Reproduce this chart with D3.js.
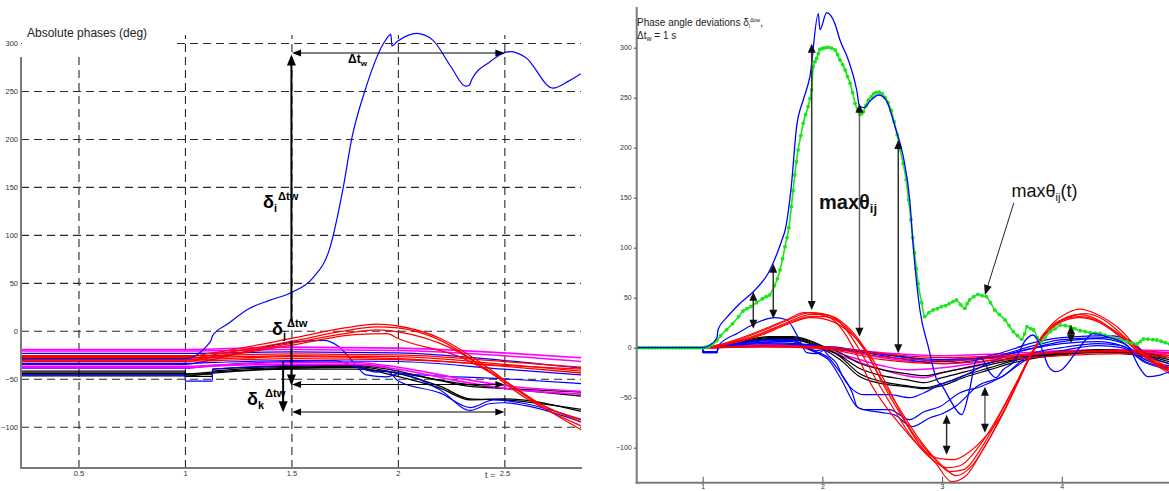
<!DOCTYPE html>
<html><head><meta charset="utf-8">
<script src="https://cdn.jsdelivr.net/npm/d3@7"></script>
<style>body{margin:0;background:#fff;}svg{display:block;font-family:"Liberation Sans",Arial,Helvetica,sans-serif;}</style>
</head><body><svg id="c" width="1169" height="491"></svg>
<script>
// ---------------- LEFT PANEL DATA: absolute phases (deg) vs t (s) ----------------
const leftXTicks = [0.5, 1, 1.5, 2, 2.5];
const leftXTickLabels = ["0.5", "1", "1.5", "2", "2.5"];
const leftYTicks = [300, 250, 200, 150, 100, 50, 0, -50, -100];

const leftMagenta = [
  [[0.23,-19.5],[1.0,-19.5],[1.5,-17],[2.0,-18],[2.5,-23],[2.86,-28]],
  [[0.23,-21],[1.0,-21],[1.5,-19.5],[2.0,-20.5],[2.5,-26],[2.86,-32]],
  [[0.23,-37],[1.0,-37],[1.13,-36],[1.5,-33],[1.8,-33],[2.0,-38],[2.3,-50],[2.5,-57],[2.86,-63]],
  [[0.23,-38.5],[1.0,-38.5],[1.13,-37],[1.5,-35],[1.8,-35],[2.0,-40],[2.3,-53],[2.5,-60],[2.86,-66]]
];
const leftRed = [
  [[0.23,-26],[1.0,-26],[1.5,-24],[2.0,-25],[2.5,-32],[2.86,-38]],
  [[0.23,-28],[1.0,-28],[1.5,-26],[2.0,-27],[2.5,-35],[2.86,-42]],
  [[0.23,-30],[1.0,-30],[1.5,-27],[2.0,-29],[2.5,-37],[2.86,-44]],
  [[0.23,-31.5],[1.0,-31.5],[1.5,-29],[2.0,-30],[2.5,-36],[2.86,-40]],
  [[0.23,-27],[1.0,-27],[1.13,-23],[1.5,-8],[1.75,3],[1.9,7],[2.0,5],[2.2,-8],[2.4,-35],[2.6,-68],[2.86,-103]],
  [[0.23,-29],[1.0,-29],[1.13,-25],[1.5,-11],[1.75,0],[1.9,4],[2.0,3],[2.2,-10],[2.4,-38],[2.6,-70],[2.86,-99]],
  [[0.23,-30.5],[1.0,-30.5],[1.13,-27],[1.5,-13],[1.75,-3],[1.9,1],[2.0,-1],[2.25,-18],[2.45,-45],[2.65,-74],[2.86,-95]],
  [[0.23,-32],[1.0,-32],[1.13,-28],[1.5,-15],[1.8,-4],[1.95,-3],[2.0,-8],[2.3,-28],[2.5,-52],[2.7,-80],[2.86,-92]]
];
const leftBlueMain = [[0.23,-29],[1.0,-29],[1.12,-11],[1.13,-5],[1.2,7],[1.3,23],[1.4,32],[1.5,40],[1.6,55],[1.68,86],[1.743,149],[1.783,200],[1.845,250],[1.934,300],[1.967,309],[1.972,297],[2.0,302],[2.088,310],[2.164,303],[2.25,275],[2.318,255],[2.335,256],[2.347,262],[2.43,280],[2.526,291],[2.6,285],[2.728,253],[2.8,260],[2.859,268]];
const leftBlue = [
  [[0.23,-23.5],[1.0,-23.5],[1.5,-22],[2.0,-23],[2.5,-31],[2.86,-39]],
  [[0.23,-34],[1.0,-34],[1.13,-33],[1.5,-31],[2.0,-32],[2.5,-40],[2.86,-46]],
  [[0.23,-35],[1.0,-35],[1.13,-30],[1.5,-12],[1.65,-10],[1.72,-16],[1.8,-35],[1.85,-46],[1.95,-48],[2.0,-45],[2.2,-62],[2.34,-83],[2.43,-76],[2.5,-75],[2.6,-78],[2.86,-95]],
  [[0.23,-39],[1.0,-39],[1.13,-36],[1.5,-32],[1.7,-31],[1.8,-37],[1.9,-43],[1.95,-42],[2.0,-52],[2.2,-65],[2.34,-80],[2.45,-72],[2.6,-76],[2.86,-93]],
  [[0.23,-46],[1.0,-46],[1.002,-52.5],[1.128,-52.5],[1.13,-40],[1.5,-36],[1.8,-35],[1.95,-38],[2.0,-44],[2.5,-50],[2.86,-55]]
];
const leftBlack = [
  [[0.23,-42],[1.0,-42],[1.002,-45],[1.128,-45],[1.13,-40],[1.5,-37],[1.8,-36],[1.95,-40],[2.2,-52],[2.34,-58],[2.5,-60],[2.86,-64]],
  [[0.23,-44],[1.0,-44],[1.002,-47.5],[1.128,-47.5],[1.13,-42],[1.5,-38],[1.8,-37],[1.95,-42],[2.2,-58],[2.34,-71],[2.5,-72],[2.86,-82]],
  [[0.23,-45],[1.0,-45],[1.13,-43],[1.5,-39],[1.8,-38],[1.95,-45],[2.2,-60],[2.34,-72],[2.5,-71],[2.86,-84]],
  [[0.23,-47],[1.0,-47],[1.13,-44],[1.5,-40],[1.8,-40],[2.0,-44],[2.3,-55],[2.5,-60],[2.86,-68]]
];
// annotations (t, value)
const leftUpArrow = [1.5, 10, 288];            // delta_i
const leftDownArrows = [[1.5, -10, -57], [1.461, -32, -85]]; // delta_j, delta_k
const leftHArrows = [[289.6, 1.503, 2.5], [-56, 1.503, 2.5], [-84.6, 1.503, 2.5]];

// ---------------- RIGHT PANEL DATA: phase angle deviations ----------------
const rightXTicks = [1, 2, 3, 4];
const rightYTicks = [300, 250, 200, 150, 100, 50, 0, -50, -100];

const rightGreen = [[0.45,0],[0.475,0],[0.5,0],[0.525,0],[0.55,0],[0.575,0],[0.6,0],[0.625,0],[0.65,0],[0.675,0],[0.7,0],[0.725,0],[0.75,0],[0.775,0],[0.8,0],[0.825,0],[0.85,0],[0.875,0],[0.9,0],[0.925,0],[0.95,0],[0.975,0],[1.0,0],[1.025,0.5],[1.05,1],[1.08,3],[1.117,7],[1.15,12],[1.2,18],[1.25,24],[1.3,31],[1.337,36.7],[1.37,39],[1.4,41],[1.45,45],[1.5,49],[1.53,51],[1.56,52.7],[1.6,62],[1.625,69],[1.646,77.7],[1.668,89],[1.688,101],[1.705,110],[1.72,120],[1.741,141],[1.755,157],[1.769,172.7],[1.783,186],[1.797,197.7],[1.82,212],[1.84,224.4],[1.86,233],[1.881,241],[1.897,249],[1.91,257.7],[1.924,281],[1.938,286],[1.952,289.4],[1.966,294],[1.98,298.4],[1.995,299],[2.008,299.5],[2.03,300],[2.05,300.4],[2.078,299.5],[2.106,297.7],[2.127,293],[2.147,287.7],[2.17,283],[2.19,277.7],[2.21,271],[2.232,264.4],[2.252,255],[2.273,244.4],[2.294,237],[2.314,233.4],[2.328,234],[2.342,236],[2.363,242],[2.384,247.7],[2.41,251],[2.43,254],[2.45,255.4],[2.475,255.5],[2.5,254],[2.525,250],[2.55,245],[2.575,237],[2.6,226],[2.625,213],[2.65,198],[2.675,184],[2.7,168],[2.72,148],[2.74,128],[2.755,110],[2.77,95],[2.785,79],[2.8,64],[2.83,45],[2.855,31],[2.89,35],[2.925,37.7],[2.96,39],[2.994,41],[3.03,42],[3.06,44],[3.09,46],[3.12,47.7],[3.155,43],[3.19,39.4],[3.21,44],[3.23,47.7],[3.265,51],[3.3,53.4],[3.335,52],[3.37,51],[3.405,45],[3.44,37.7],[3.48,33],[3.526,27.7],[3.56,22],[3.596,16],[3.63,12],[3.666,8.4],[3.69,14],[3.71,21],[3.74,19],[3.765,17.7],[3.795,10],[3.82,4.4],[3.86,10],[3.904,16],[3.945,19],[3.987,22.7],[4.03,22],[4.07,21],[4.11,19],[4.154,17],[4.195,16],[4.237,15],[4.28,14.6],[4.32,14.4],[4.36,12.5],[4.404,11],[4.45,9],[4.5,7.5],[4.543,6],[4.585,4.5],[4.627,3.7],[4.655,6],[4.682,8.7],[4.72,8.5],[4.76,8],[4.794,7.7],[4.83,6.5],[4.865,5],[4.9,3.7]];
const rightBlueMain = [[0.45,0],[1.0,0],[1.05,2],[1.12,10],[1.128,18],[1.2,30],[1.3,43],[1.437,57.7],[1.55,75],[1.66,107],[1.69,118],[1.74,161],[1.785,221],[1.84,247.7],[1.896,271],[1.966,334],[1.98,318],[2.036,335],[2.105,324],[2.147,307.7],[2.217,287.7],[2.287,257.7],[2.31,241.7],[2.35,240],[2.4,247],[2.47,252.7],[2.53,248],[2.607,221],[2.676,191],[2.73,147.7],[2.76,100],[2.815,37.7],[2.885,1],[2.955,-32],[3.0,-38],[3.066,-52],[3.163,-67],[3.23,-42],[3.28,-14],[3.32,-10],[3.40,-25],[3.45,-30],[3.51,-22],[3.6,-14],[3.7,8],[3.76,12.7],[3.83,0],[3.89,-19],[3.95,-24],[4.0,-22],[4.11,-6],[4.2,8],[4.26,14],[4.4,10],[4.55,2],[4.65,-20],[4.72,-29],[4.8,-28],[4.9,-24]];
const rightBlue = [
  [[0.45,0],[1.0,0],[1.002,-5],[1.12,-5],[1.13,2],[1.3,15],[1.45,25],[1.6,30],[1.7,28],[1.8,10],[1.87,-5],[1.95,-6],[1.99,-4],[2.05,1],[2.3,-3],[2.6,-8],[3.0,-12],[3.4,-10],[3.7,-2],[4.0,6],[4.3,9],[4.5,5],[4.7,-12],[4.9,-18]],
  [[0.45,0],[1.0,0],[1.002,-4],[1.12,-4],[1.13,1],[1.5,5],[1.9,3],[2.0,1],[2.3,-3],[2.7,-10],[3.0,-14],[3.4,-8],[3.8,6],[4.0,10],[4.4,12],[4.6,5],[4.75,-14],[4.9,-22]],
  [[0.45,0],[1.0,0],[1.5,4],[1.9,2],[2.0,0],[2.3,-4],[2.7,-12],[3.0,-16],[3.4,-10],[3.8,3],[4.0,8],[4.4,10],[4.6,3],[4.75,-10],[4.9,-16]],
  [[0.45,0],[1.0,0],[1.002,-4],[1.12,-4],[1.13,1],[1.3,5],[1.6,8],[1.75,8],[1.85,2],[1.95,-3],[2.0,-2],[2.05,-8],[2.12,-16],[2.17,-29],[2.29,-45],[2.34,-47],[2.56,-47],[2.73,-50],[2.85,-45],[2.98,-37],[3.15,-30],[3.33,-19],[3.55,-7],[3.75,-1],[4.0,4],[4.3,6],[4.5,2],[4.7,-12],[4.9,-20]],
  [[0.45,0],[1.0,0],[1.002,-5],[1.12,-5],[1.13,0],[1.3,4],[1.6,7],[1.75,7],[1.85,1],[1.95,-4],[2.05,-10],[2.15,-25],[2.25,-45],[2.29,-59],[2.34,-62],[2.56,-62],[2.73,-72],[2.85,-64],[2.98,-59],[3.15,-45],[3.32,-39],[3.5,-29],[3.75,-9],[4.0,-3],[4.3,2],[4.5,0],[4.7,-15],[4.9,-22]],
  [[0.45,0],[1.0,0],[1.3,3],[1.6,6],[1.75,6],[1.85,0],[1.95,-5],[2.05,-12],[2.15,-30],[2.3,-60],[2.5,-65],[2.6,-67],[2.75,-79],[2.9,-70],[3.0,-66],[3.12,-58],[3.3,-38],[3.5,-29],[3.75,-6],[4.0,0],[4.3,4],[4.5,2],[4.7,-14],[4.9,-20]]
];
const rightMagenta = [
  [[0.45,0],[1.0,0],[1.5,2],[2.0,1],[2.5,-5],[3.0,-8],[3.5,-6],[4.0,-3],[4.5,-2],[4.9,-3]],
  [[0.45,0],[1.0,0],[1.5,1],[2.0,0],[2.5,-10],[2.8,-14],[3.0,-12],[3.5,-9],[4.0,-5],[4.5,-4],[4.9,-6]],
  [[0.45,0],[1.0,0],[1.5,3],[1.9,2],[2.2,-10],[2.5,-22],[2.7,-28],[2.85,-30],[3.0,-25],[3.3,-18],[3.6,-10],[4.0,-5],[4.5,-4],[4.9,-8]],
  [[0.45,0],[1.0,0],[1.5,2],[1.9,1],[2.2,-8],[2.5,-18],[2.7,-22],[3.0,-20],[3.3,-15],[3.6,-8],[4.0,-4],[4.5,-3],[4.9,-6]]
];
const rightBlack = [
  [[0.45,0],[1.0,0],[1.1,2],[1.3,5],[1.55,9],[1.75,9],[1.9,5],[2.0,0],[2.15,-8],[2.3,-20],[2.5,-28],[2.7,-32],[2.85,-35],[3.0,-30],[3.2,-24],[3.4,-17],[3.6,-12],[3.8,-8],[4.0,-6],[4.3,-3],[4.6,-5],[4.9,-12]],
  [[0.45,0],[1.0,0],[1.3,5],[1.55,10],[1.75,10],[1.9,6],[2.0,1],[2.15,-9],[2.3,-25],[2.5,-34],[2.7,-38],[2.85,-40],[3.0,-36],[3.2,-27],[3.4,-20],[3.6,-13],[3.8,-9],[4.0,-6],[4.3,-4],[4.6,-6],[4.9,-14]],
  [[0.45,0],[1.0,0],[1.3,4],[1.55,8],[1.75,8],[1.9,4],[2.0,-1],[2.15,-12],[2.3,-28],[2.5,-36],[2.7,-39],[2.85,-41],[3.0,-38],[3.2,-29],[3.4,-22],[3.6,-15],[3.8,-10],[4.0,-7],[4.3,-5],[4.6,-7],[4.9,-16]],
  [[0.45,0],[1.0,0],[1.3,6],[1.55,11],[1.75,11],[1.9,7],[2.0,2],[2.15,-5],[2.3,-15],[2.5,-22],[2.7,-26],[2.85,-28],[3.0,-25],[3.2,-20],[3.4,-15],[3.6,-10],[3.8,-7],[4.0,-5],[4.3,-2],[4.6,-4],[4.9,-10]]
];
const rightRed = [
  [[0.45,0],[1.0,0],[1.5,2],[2.0,1],[2.5,-6],[3.0,-10],[3.5,-8],[4.0,-4],[4.5,-3],[4.9,-5]],
  [[0.45,0],[1.0,0],[1.5,1],[2.0,0],[2.5,-9],[3.0,-13],[3.5,-10],[4.0,-5],[4.5,-4],[4.9,-8]],
  [[0.45,0],[1.0,0],[1.5,1],[2.0,-1],[2.5,-12],[3.0,-16],[3.5,-12],[4.0,-8],[4.5,-6],[4.9,-10]],
  [[0.45,0],[1.0,0],[1.1,2],[1.3,9],[1.5,18],[1.7,28],[1.85,35],[1.95,34],[2.1,27],[2.2,12],[2.3,-10],[2.4,-35],[2.55,-62],[2.7,-84],[2.85,-103],[2.98,-111],[3.1,-112],[3.23,-104],[3.37,-88],[3.51,-65],[3.62,-38],[3.73,-9],[3.83,10],[3.93,25],[4.05,35],[4.15,38.5],[4.3,33],[4.49,18],[4.63,0],[4.75,-13],[4.9,-24]],
  [[0.45,0],[1.0,0],[1.3,8],[1.5,17],[1.7,27],[1.9,35],[2.0,34],[2.15,25],[2.3,0],[2.45,-32],[2.6,-62],[2.75,-90],[2.9,-110],[3.04,-120],[3.15,-118],[3.3,-100],[3.5,-62],[3.62,-35],[3.74,-7],[3.85,14],[3.98,27],[4.15,31],[4.3,27],[4.5,12],[4.65,-3],[4.9,-20]],
  [[0.45,0],[1.0,0],[1.3,7],[1.5,15],[1.7,25],[1.9,33],[2.02,33],[2.2,22],[2.35,0],[2.5,-35],[2.65,-66],[2.8,-95],[2.95,-116],[3.08,-134],[3.2,-128],[3.35,-100],[3.5,-68],[3.62,-38],[3.75,-6],[3.87,15],[4.0,28],[4.15,33],[4.3,28],[4.5,10],[4.7,-10],[4.9,-26]],
  [[0.45,0],[1.0,0],[1.3,6],[1.5,14],[1.7,24],[1.9,31],[2.02,31],[2.2,20],[2.35,-2],[2.5,-33],[2.65,-62],[2.8,-90],[2.95,-112],[3.06,-124],[3.18,-122],[3.33,-100],[3.5,-63],[3.62,-36],[3.75,-6],[3.87,14],[4.0,26],[4.15,30],[4.3,26],[4.5,10],[4.7,-9],[4.9,-22]],
  [[0.45,0],[1.0,0],[1.3,6],[1.5,13],[1.7,23],[1.9,30],[2.0,29],[2.2,18],[2.4,-8],[2.55,-40],[2.7,-75],[2.85,-100],[3.0,-118],[3.12,-128],[3.25,-118],[3.4,-90],[3.55,-55],[3.66,-28],[3.76,-4],[3.9,18],[4.05,30],[4.2,34],[4.35,28],[4.55,8],[4.75,-12],[4.9,-22]]
];
const rightArrows = [[1.423,19,56],[1.59,29,84],[1.911,37.7,304],[2.31,11,244],[2.634,-5.6,207.7],[3.038,-107,-67],[3.358,-85,-39],[4.077,4.4,22.7]];
const rightPointer = [[3.60,145],[3.358,52.7]];

// ---------------- DRAWING ----------------
const svg = d3.select("#c");
const FONT = '"Liberation Sans",Arial,Helvetica,sans-serif';

function arrowHead(g, x, y, dx, dy, L, W, color) {
  const n = Math.hypot(dx, dy); dx /= n; dy /= n;
  const bx = x - dx * L, by = y - dy * L;
  g.append("path")
    .attr("d", `M${x},${y}L${bx - dy * W},${by + dx * W}L${bx + dy * W},${by - dx * W}Z`)
    .attr("fill", color);
}
function arrow(g, x1, y1, x2, y2, opt) {
  const L = opt.L, W = opt.W;
  const dx = x2 - x1, dy = y2 - y1, n = Math.hypot(dx, dy);
  const ux = dx / n, uy = dy / n;
  const sx = opt.start ? x1 + ux * L * 0.8 : x1, sy = opt.start ? y1 + uy * L * 0.8 : y1;
  const ex = opt.end ? x2 - ux * L * 0.8 : x2, ey = opt.end ? y2 - uy * L * 0.8 : y2;
  g.append("line").attr("x1", sx).attr("y1", sy).attr("x2", ex).attr("y2", ey)
    .attr("stroke", opt.stroke).attr("stroke-width", opt.sw);
  if (opt.end) arrowHead(g, x2, y2, ux, uy, L, W, opt.head);
  if (opt.start) arrowHead(g, x1, y1, -ux, -uy, L, W, opt.head);
}

// ===== LEFT =====
const xL = d3.scaleLinear().domain([0.23, 2.86]).range([21, 581]);
const yL = d3.scaleLinear().domain([-143, 300]).range([468, 43]);
const gL = svg.append("g");

const gridH = gL.append("g").attr("transform", "translate(21,0)")
  .call(d3.axisLeft(yL).tickValues(leftYTicks).tickSize(-560).tickFormat(""));
const gridV = gL.append("g").attr("transform", "translate(0,468)")
  .call(d3.axisBottom(xL).tickValues(leftXTicks).tickSize(-433).tickFormat(""));
[gridH, gridV].forEach(g => {
  g.select(".domain").remove();
  g.selectAll("line").attr("stroke", "#2a2a2a").attr("stroke-width", 1.1).attr("stroke-dasharray", "8,5");
});
gL.append("rect").attr("x", 22).attr("y", 0).attr("width", 153).attr("height", 56).attr("fill", "#fff");
gL.append("text").attr("x", 27).attr("y", 37).attr("font-size", 12).attr("fill", "#222").text("Absolute phases (deg)");

svg.append("clipPath").attr("id", "clipL").append("rect").attr("x", 21).attr("y", 30).attr("width", 560).attr("height", 438);
const lineL = d3.line().x(d => xL(d[0])).y(d => yL(d[1])).curve(d3.curveMonotoneX);
const curvesL = gL.append("g").attr("clip-path", "url(#clipL)");
function drawSet(g, sets, gen, color, w) {
  g.selectAll(null).data(sets).enter().append("path")
    .attr("d", gen).attr("fill", "none").attr("stroke", color).attr("stroke-width", w).attr("stroke-linejoin", "round");
}
drawSet(curvesL, leftBlack, lineL, "#000", 1.3);
drawSet(curvesL, leftBlue, lineL, "#0000ff", 1.2);
drawSet(curvesL, leftMagenta, lineL, "#ff00ff", 1.6);
drawSet(curvesL, leftRed, lineL, "#ff0000", 1.3);
drawSet(curvesL, [leftBlueMain], lineL, "#0000ff", 1.2);

gL.append("line").attr("x1", 21).attr("x2", 21).attr("y1", 57).attr("y2", 469).attr("stroke", "#7a7a7a").attr("stroke-width", 2);
gL.append("line").attr("x1", 20).attr("x2", 582).attr("y1", 468).attr("y2", 468).attr("stroke", "#7a7a7a").attr("stroke-width", 2);
const axYL = gL.append("g").attr("transform", "translate(21,0)")
  .call(d3.axisLeft(yL).tickValues(leftYTicks).tickSize(0).tickPadding(3));
const axXL = gL.append("g").attr("transform", "translate(0,468)")
  .call(d3.axisBottom(xL).tickValues(leftXTicks).tickFormat((d, i) => leftXTickLabels[i]).tickSize(0).tickPadding(3));
[axYL, axXL].forEach(g => { g.select(".domain").remove(); g.selectAll("text").attr("font-size", 7.5).attr("fill", "#333").attr("font-family", FONT); });
gL.append("text").attr("x", 485).attr("y", 477.5).attr("font-size", 9).attr("fill", "#333").text("t =");

const ann = gL.append("g");
arrow(ann, xL(leftUpArrow[0]), yL(leftUpArrow[1]), xL(leftUpArrow[0]), yL(leftUpArrow[2]), {end: true, L: 11, W: 4.5, stroke: "#000", sw: 2, head: "#000"});
leftDownArrows.forEach(a => arrow(ann, xL(a[0]), yL(a[1]), xL(a[0]), yL(a[2]), {end: true, L: 11, W: 4.5, stroke: "#000", sw: 2, head: "#000"}));
leftHArrows.forEach(a => arrow(ann, xL(a[1]), yL(a[0]), xL(a[2]), yL(a[0]), {start: true, end: true, L: 9, W: 3.5, stroke: "#000", sw: 1.1, head: "#000"}));

function deltaLabel(g, x, y, sub, big) {
  const t = g.append("text").attr("x", x).attr("y", y).attr("font-weight", "bold").attr("fill", "#000");
  t.append("tspan").attr("font-size", big).text("δ");
  t.append("tspan").attr("font-size", big * 0.6).attr("dy", 4).text(sub);
  t.append("tspan").attr("font-size", big * 0.62).attr("dy", -12).attr("dx", 1).text("Δtw");
}
deltaLabel(ann, 263, 208, "i", 18);
deltaLabel(ann, 272, 335, "j", 18);
deltaLabel(ann, 247, 405, "k", 18);
const dtw = ann.append("text").attr("x", 348).attr("y", 63).attr("font-weight", "bold").attr("font-size", 12);
dtw.append("tspan").text("Δt");
dtw.append("tspan").attr("font-size", 8).attr("dy", 3).text("w");

// ===== RIGHT =====
const xR = d3.scaleLinear().domain([0.449, 4.9]).range([636.7, 1169.5]);
const yR = d3.scaleLinear().domain([-135, 340.7]).range([482.7, 7]);
const gR = svg.append("g");
svg.append("clipPath").attr("id", "clipR").append("rect").attr("x", 637).attr("y", 5).attr("width", 540).attr("height", 478);
const lineR = d3.line().x(d => xR(d[0])).y(d => yR(d[1])).curve(d3.curveMonotoneX);
const curvesR = gR.append("g").attr("clip-path", "url(#clipR)");
drawSet(curvesR, rightMagenta, lineR, "#ff00ff", 1.4);
drawSet(curvesR, rightBlack, lineR, "#000", 1.2);
drawSet(curvesR, rightBlue, lineR, "#0000ff", 1.2);
drawSet(curvesR, rightRed, lineR, "#ff0000", 1.2);
drawSet(curvesR, [rightGreen], lineR, "#19e619", 1.6);
curvesR.selectAll("circle.g").data(rightGreen).enter().append("circle")
  .attr("cx", d => xR(d[0])).attr("cy", d => yR(d[1])).attr("r", 1.9).attr("fill", "#19e619");
drawSet(curvesR, [rightBlueMain], lineR, "#0000ff", 1.3);

gR.append("line").attr("x1", 636.7).attr("x2", 636.7).attr("y1", 7).attr("y2", 483.7).attr("stroke", "#7a7a7a").attr("stroke-width", 2);
gR.append("line").attr("x1", 635.7).attr("x2", 1169).attr("y1", 482.7).attr("y2", 482.7).attr("stroke", "#7a7a7a").attr("stroke-width", 2);
const axYR = gR.append("g").attr("transform", "translate(636.7,0)")
  .call(d3.axisLeft(yR).tickValues(rightYTicks).tickSize(3).tickPadding(2));
const axXR = gR.append("g").attr("transform", "translate(0,482.7)")
  .call(d3.axisBottom(xR).tickValues(rightXTicks).tickFormat(d3.format("d")).tickSize(-6).tickPadding(1.5));
[axYR, axXR].forEach(g => {
  g.select(".domain").remove();
  g.selectAll("line").attr("stroke", "#555");
  g.selectAll("text").attr("font-size", 7).attr("fill", "#333").attr("font-family", FONT);
});

const t1 = gR.append("text").attr("x", 637).attr("y", 26).attr("font-size", 10).attr("fill", "#222");
t1.append("tspan").text("Phase angle deviations δ");
t1.append("tspan").attr("font-size", 6).attr("dy", 2).text("i");
t1.append("tspan").attr("font-size", 6).attr("dy", -6).text("Δtw");
t1.append("tspan").attr("dy", 4).text(",");
const t2 = gR.append("text").attr("x", 637).attr("y", 39).attr("font-size", 10).attr("fill", "#222");
t2.append("tspan").text("Δt");
t2.append("tspan").attr("font-size", 7).attr("dy", 2).text("w");
t2.append("tspan").attr("dy", -2).text(" = 1 s");

const annR = gR.append("g");
rightArrows.forEach((a, i) => arrow(annR, xR(a[0]), yR(a[1]), xR(a[0]), yR(a[2]),
  {start: true, end: true, L: 9, W: 4, stroke: (i === 3 || i === 6) ? "#666" : "#333", sw: 1.5, head: "#111"}));
arrow(annR, xR(rightPointer[0][0]), yR(rightPointer[0][1]), xR(rightPointer[1][0]), yR(rightPointer[1][1]),
  {end: true, L: 10, W: 4, stroke: "#222", sw: 1, head: "#111"});

const m1 = annR.append("text").attr("x", xR(1.972)).attr("y", yR(138.7)).attr("font-weight", "bold").attr("font-size", 20).attr("fill", "#111");
m1.append("tspan").text("maxθ");
m1.append("tspan").attr("font-size", 13).attr("dy", 4).text("ij");
const m2 = annR.append("text").attr("x", xR(3.58)).attr("y", yR(150.7)).attr("font-size", 18).attr("fill", "#111");
m2.append("tspan").text("maxθ");
m2.append("tspan").attr("font-size", 11).attr("dy", 4).text("ij");
m2.append("tspan").attr("dy", -4).text("(t)");
</script></body></html>
